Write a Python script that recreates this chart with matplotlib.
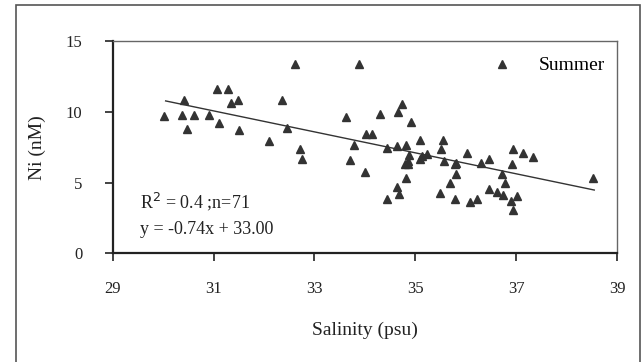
import matplotlib
matplotlib.use('Agg')

import numpy as np
import matplotlib.pyplot as plt
from matplotlib.patches import Rectangle

# Data (salinity in psu, Ni in nM)
salinity = [30.02, 30.41, 30.38, 30.48, 30.61, 30.91, 31.07, 31.29, 31.11, 31.35,
            31.48, 31.50, 32.09, 32.36, 32.46, 32.61, 32.71, 32.75, 33.62, 33.71,
            33.79, 33.89, 34.01, 34.02, 34.15, 34.30, 34.43, 34.44, 34.63, 34.67,
            34.64, 34.66, 34.74, 34.81, 34.82, 34.85, 34.88, 34.91, 35.09, 35.10,
            35.24, 35.49, 35.52, 35.56, 35.57, 35.69, 35.78, 35.81, 35.81, 36.02,
            36.08, 36.23, 36.31, 36.46, 36.46, 36.63, 36.73, 36.75, 36.77, 36.90,
            36.92, 36.93, 36.93, 37.01, 37.14, 37.33, 38.53, 34.79, 34.85, 35.13,
            35.79]
ni = [9.68, 10.80, 9.80, 8.79, 9.80, 9.80, 11.60, 11.60, 9.21, 10.62,
      10.85, 8.69, 7.92, 10.80, 8.86, 13.36, 7.34, 6.68, 9.63, 6.59,
      7.62, 13.36, 5.77, 8.44, 8.44, 9.87, 3.82, 7.41, 4.69, 4.22,
      7.57, 9.96, 10.57, 7.64, 5.34, 6.52, 6.98, 9.26, 7.97, 6.63,
      7.05, 4.29, 7.38, 7.99, 6.52, 4.99, 3.82, 6.40, 5.58, 7.10,
      3.66, 3.82, 6.40, 6.68, 4.52, 4.34, 5.58, 4.10, 4.94, 3.70,
      6.33, 7.34, 3.07, 4.05, 7.10, 6.80, 5.30, 6.33, 6.28, 6.87,
      6.28]

# regression line as printed on the figure
slope, intercept = -0.74, 33.00
fit_range = [30.05, 38.55]

plt.rcParams['font.family'] = ['Liberation Serif', 'DejaVu Serif']

fig = plt.figure(figsize=(6.44, 3.62), dpi=100)
ax = fig.add_axes([0.175, 0.300, 0.783, 0.587])

# outer frame of the scanned figure (bottom edge runs off the picture)
fig.patches.append(Rectangle((16 / 644, -0.05), 624 / 644, 1.036,
                             transform=fig.transFigure, fill=False,
                             edgecolor='#555555', linewidth=1.2))

ax.plot(salinity, ni, linestyle='none', marker='^', markersize=6,
        color='#333333', label='Summer')

xf = np.array(fit_range)
ax.plot(xf, slope * xf + intercept, color='#333333', linewidth=1.0)

ax.text(29.55, 3.66, r'R$^{2}$ = 0.4 ;n=71', fontsize=13, va='center', color='#222222')
ax.text(29.55, 1.71, 'y = -0.74x + 33.00', fontsize=13, va='center', color='#222222')

ax.set_xlim(29, 39)
ax.set_ylim(0, 15)
ax.set_xticks([29, 31, 33, 35, 37, 39])
ax.set_yticks([0, 5, 10, 15])
ax.tick_params(direction='out', length=6, width=1.2, labelsize=12, colors='#222222')
ax.tick_params(axis='x', pad=14)
ax.tick_params(axis='y', pad=16)

for side in ['left', 'bottom']:
    ax.spines[side].set_linewidth(1.6)
    ax.spines[side].set_color('#222222')
for side in ['top', 'right']:
    ax.spines[side].set_linewidth(1.0)
    ax.spines[side].set_color('#666666')

ax.set_xlabel('Salinity (psu)', fontsize=14, labelpad=18, color='#222222')
ax.set_ylabel('Ni (nM)', fontsize=14, labelpad=14, color='#222222')

ax.legend(loc='upper right', frameon=False, fontsize=14, handletextpad=1.4,
          borderaxespad=0.2, handlelength=1.0, bbox_to_anchor=(1.0, 0.98))

plt.savefig('out.png', dpi=100)
